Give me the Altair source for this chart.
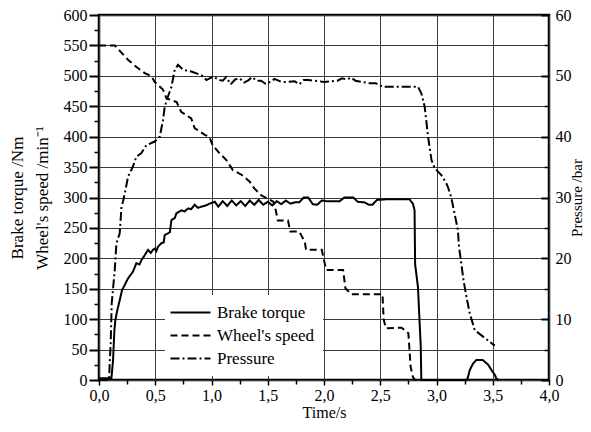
import altair as alt
import pandas as pd

# ---------------- data ----------------
torque_t = [0.0, 0.11, 0.115, 0.125, 0.133, 0.137, 0.146, 0.163, 0.184, 0.205, 0.228, 0.258, 0.302,
            0.332, 0.36, 0.377, 0.406, 0.436, 0.46, 0.48, 0.495, 0.51, 0.524, 0.555, 0.575, 0.584,
            0.613, 0.63, 0.644, 0.673, 0.688, 0.733, 0.76, 0.791, 0.82, 0.85, 0.88, 0.91, 0.95,
            0.984, 1.03, 1.06, 1.10, 1.14, 1.18, 1.22, 1.26, 1.30, 1.34, 1.38, 1.42, 1.46, 1.50,
            1.54, 1.58, 1.62, 1.66, 1.70, 1.74, 1.78, 1.82, 1.86, 1.90, 1.94, 1.98, 2.02, 2.08,
            2.14, 2.18, 2.26, 2.30, 2.36, 2.40, 2.43, 2.47, 2.55, 2.76, 2.79, 2.805, 2.81, 2.835,
            2.86, 2.865, 3.27, 3.28, 3.295, 3.325, 3.355, 3.41, 3.46, 3.49, 3.52, 3.53, 3.55]
torque_v = [3, 3, 12, 33, 66, 82, 99, 115, 131, 148, 156, 167, 178,
            192, 190, 197, 205, 214, 209, 214, 216, 212, 219, 225, 226, 238,
            241, 243, 263, 266, 274, 279, 277, 282, 281, 288, 283, 285, 287,
            290, 293, 285, 294, 286, 295, 287, 294, 286, 295, 288, 296, 288, 293,
            287, 294, 289, 295, 290, 292, 292, 300, 300, 289, 288, 295, 294, 294,
            294, 300, 300, 293, 292, 288, 288, 296, 297, 297, 290, 279, 190, 153,
            55, 0, 0, 5, 16, 27, 33, 33, 25, 16, 8, 3, 0]

speed_t = [0.0, 0.14, 0.18, 0.26, 0.33, 0.41, 0.45, 0.47, 0.495, 0.57, 0.6, 0.69, 0.73, 0.82,
           0.85, 0.94, 0.98, 1.01, 1.07, 1.13, 1.19, 1.27, 1.34, 1.38, 1.44, 1.50, 1.55, 1.57,
           1.59, 1.68, 1.70, 1.78, 1.83, 1.84, 1.98, 2.00, 2.02, 2.17, 2.19, 2.24, 2.52, 2.53,
           2.55, 2.69, 2.75, 2.76, 2.77, 2.79, 2.81, 3.12]
speed_v = [550, 550, 542, 526, 515, 504, 501, 498, 490, 477, 463, 457, 441, 430,
           414, 403, 400, 386, 373, 362, 345, 337, 326, 315, 304, 298, 293, 280,
           262, 262, 244, 244, 227, 214, 214, 197, 181, 181, 151, 141, 141, 100,
           85, 86, 77, 49, 22, 5, 0, 0]

pressure_t = [0.0, 0.09, 0.095, 0.104, 0.113, 0.14, 0.155, 0.184, 0.2, 0.213, 0.235, 0.258, 0.302,
              0.332, 0.377, 0.421, 0.495, 0.54, 0.569, 0.584, 0.613, 0.644, 0.673, 0.702, 0.747,
              0.821, 0.91, 0.955, 1.013, 1.073, 1.10, 1.13, 1.17, 1.21, 1.25, 1.29, 1.33, 1.36,
              1.40, 1.44, 1.48, 1.52, 1.56, 1.62, 1.68, 1.74, 1.78, 1.82, 1.86, 1.92, 2.0, 2.06,
              2.12, 2.16, 2.20, 2.24, 2.28, 2.34, 2.40, 2.46, 2.52, 2.58, 2.70, 2.836, 2.866,
              2.895, 2.91, 2.925, 2.94, 2.955, 2.984, 3.043, 3.088, 3.10, 3.13, 3.16, 3.19, 3.20,
              3.22, 3.24, 3.266, 3.295, 3.34, 3.43, 3.51, 3.52]
pressure_v = [0, 0, 2.8, 6.1, 12.6, 18.1, 22.5, 24.1, 28.5, 29.3, 31.2, 33.4, 35.1,
              36.7, 37.3, 38.6, 39.2, 40.0, 42.7, 44.9, 46.6, 48.2, 51.0, 51.8, 51.0,
              50.7, 50.1, 49.3, 49.9, 49.3, 49.2, 49.8, 48.6, 49.4, 49.6, 48.9, 49.3, 49.8,
              49.2, 49.2, 48.7, 49.0, 49.5, 49.0, 49.0, 49.1, 48.6, 49.3, 49.3, 49.2, 49.0, 49.1,
              49.2, 49.6, 49.4, 49.7, 49.2, 49.0, 48.8, 48.8, 48.2, 48.2, 48.2, 48.2, 47.1,
              44.9, 42.5, 40.0, 38.1, 36.2, 34.8, 33.7, 32.3, 31.8, 30.1, 27.4, 24.7, 21.9,
              19.2, 16.4, 13.7, 11.0, 8.2, 6.9, 5.75, 5.7]

series_names = ["Brake torque", "Wheel's speed", "Pressure"]
dash_styles = [[1, 0], [7, 4], [9, 3, 2, 3]]

x_major_ticks = [0.0, 0.5, 1.0, 1.5, 2.0, 2.5, 3.0, 3.5, 4.0]
x_minor_ticks = [0.25, 0.75, 1.25, 1.75, 2.25, 2.75, 3.25, 3.75]
yl_major_ticks = list(range(0, 601, 50))
yl_minor_ticks = list(range(25, 600, 50))
yr_major_ticks = list(range(0, 61, 10))
yr_minor_ticks = list(range(5, 60, 10))

rows = []
for name, ts, vs in zip(series_names, [torque_t, speed_t, pressure_t], [torque_v, speed_v, pressure_v]):
    for i, (t, v) in enumerate(zip(ts, vs)):
        rows.append({"t": t, "v": v, "series": name, "i": i})
df = pd.DataFrame(rows)

FONT = "Times New Roman, Liberation Serif, Times, serif"
GRID = "#3a3a3a"

xscale = alt.Scale(domain=[0, 4], nice=False, zero=False)
ylscale = alt.Scale(domain=[0, 600], nice=False)
yrscale = alt.Scale(domain=[0, 60], nice=False)

legend = alt.Legend(
    title=None, orient="none", legendX=66, legendY=280,
    fillColor="white", strokeColor=None, padding=9,
    symbolType="M-2.4,0H5.6", symbolSize=100, symbolStrokeWidth=2, symbolStrokeColor="black",
    labelFont=FONT, labelFontSize=17, labelColor="black", labelOffset=26, rowPadding=5,
)
dash = alt.StrokeDash("series:N", scale=alt.Scale(domain=series_names, range=dash_styles), legend=legend)

x_major = alt.Axis(
    orient="bottom", values=x_major_ticks, labelExpr="replace(format(datum.value, '.1f'), '.', ',')",
    title="Time/s", grid=True, gridColor=GRID, gridWidth=1, tickSize=5, tickWidth=1.5,
    tickColor="black", domain=False, labelFont=FONT, labelFontSize=16, labelColor="black",
    labelPadding=2, labelFlush=False, titleFont=FONT, titleFontSize=16, titleFontWeight="normal",
    titleColor="black", titlePadding=1,
)
yl_major = alt.Axis(
    orient="left", values=yl_major_ticks, title=["Brake torque /Nm", "Wheel's speed /min\u207b\u00b9"],
    grid=True, gridColor=GRID, gridWidth=1, tickSize=10, tickWidth=2, tickColor="black",
    domain=False, labelFont=FONT, labelFontSize=16, labelColor="black", labelPadding=2,
    titleFont=FONT, titleFontSize=17, titleFontWeight="normal", titleColor="black",
    titlePadding=12, titleLineHeight=25,
)
yr_major = alt.Axis(
    orient="right", values=yr_major_ticks, title="Pressure /bar", grid=False,
    tickSize=alt.ExprRef(expr="-8"), tickWidth=2, tickColor="black", domain=False,
    labelFont=FONT, labelFontSize=16, labelColor="black", labelPadding=14,
    titleFont=FONT, titleFontSize=15, titleFontWeight="normal", titleColor="black",
    titleAngle=270, titleBaseline="top", titlePadding=-2,
)

left = alt.Chart(df).transform_filter("datum.series != 'Pressure'").mark_line(
    strokeWidth=2, color="black").encode(
    x=alt.X("t:Q", scale=xscale, axis=x_major),
    y=alt.Y("v:Q", scale=ylscale, axis=yl_major),
    strokeDash=dash,
    order="i:Q",
)

right = alt.Chart(df).transform_filter("datum.series == 'Pressure'").mark_line(
    strokeWidth=2, color="black").encode(
    x=alt.X("t:Q", scale=xscale, axis=None),
    y=alt.Y("v:Q", scale=yrscale, axis=yr_major),
    strokeDash=dash,
    order="i:Q",
)

minor_left = alt.Chart(df).transform_filter("datum.series != 'Pressure'").mark_point(opacity=0).encode(
    x=alt.X("t:Q", scale=xscale, axis=alt.Axis(orient="bottom", values=x_minor_ticks, labels=False,
                                               tickSize=4, tickWidth=1.5, tickColor="black",
                                               grid=False, domain=False, title=None)),
    y=alt.Y("v:Q", scale=ylscale, axis=alt.Axis(orient="left", values=yl_minor_ticks, labels=False,
                                                tickSize=5, tickWidth=1.5, tickColor="black",
                                                grid=False, domain=False, title=None)),
)

minor_right = alt.Chart(df).transform_filter("datum.series == 'Pressure'").mark_point(opacity=0).encode(
    x=alt.X("t:Q", scale=xscale, axis=None),
    y=alt.Y("v:Q", scale=yrscale, axis=alt.Axis(orient="right", values=yr_minor_ticks, labels=False,
                                                tickSize=alt.ExprRef(expr="-5"), tickWidth=1.5,
                                                tickColor="black", grid=False, domain=False,
                                                title=None)),
)

chart = alt.layer(left, right, minor_left, minor_right).resolve_scale(
    x="independent", y="independent"
).properties(
    width=450, height=365,
    autosize=alt.AutoSizeParams(type="none"),
    padding={"left": 91, "top": 7, "right": 34, "bottom": 40},
    background="white",
).configure_view(stroke="black", strokeWidth=2.5)

chart.save("out.html", embed_options={"renderer": "svg", "actions": False})
